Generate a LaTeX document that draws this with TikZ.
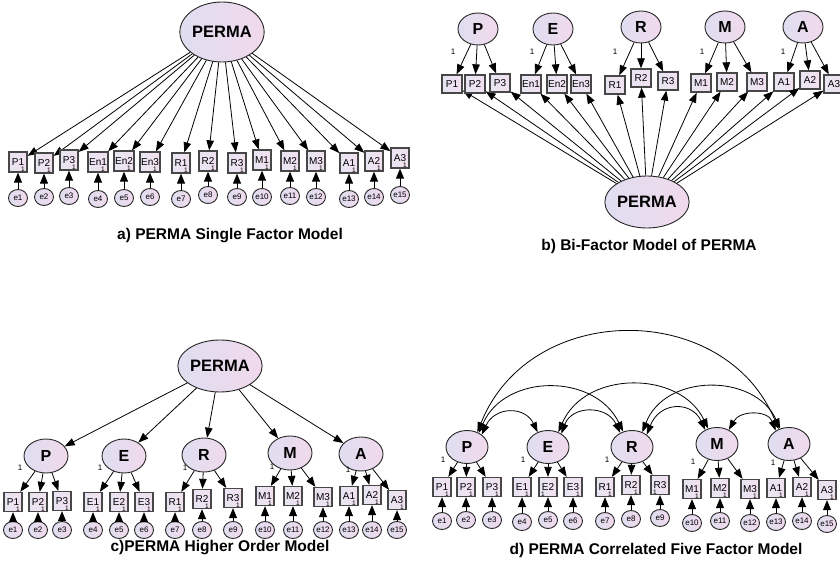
\documentclass[tikz,border=0pt]{standalone}
\usepackage{fontspec}
\setmainfont{Liberation Sans}
\usetikzlibrary{shapes.geometric,arrows.meta,calc}
\newcommand\fsz[1]{\fontsize{#1}{#1}\selectfont}
\definecolor{lav}{HTML}{DFDEF0}
\definecolor{pnk}{HTML}{F1D9EC}
\definecolor{boxl}{HTML}{E8E5F3}
\definecolor{boxr}{HTML}{F2E0EF}
\begin{document}
\begin{tikzpicture}[x=1pt,y=-1pt,
  fac/.style={ellipse,draw=black!85,line width=0.9pt,left color=lav,right color=pnk,inner sep=0pt,font=\fsz{16}\bfseries},
  obs/.style={rectangle,draw=black!72,line width=1.3pt,left color=boxl,right color=boxr,inner sep=0pt,inner xsep=1pt,minimum width=18pt,minimum height=19pt,font=\fsz{10}},
  err/.style={ellipse,draw=black!85,line width=0.9pt,left color=lav,right color=pnk,inner sep=0pt,minimum width=19pt,minimum height=17pt,font=\fsz{8}},
  ld/.style={-{Triangle[length=10pt,width=7.5pt]},line width=0.8pt},
  ea/.style={-{Triangle[length=10pt,width=8pt]},line width=1pt},
  cv/.style={{Triangle[length=10pt,width=7pt]}-{Triangle[length=10pt,width=7pt]},line width=0.8pt},
  one/.style={inner sep=0pt,font=\fsz{8}},
  tick/.style={inner sep=0pt,font=\fsz{6.5}},
  ttl/.style={inner sep=0pt,font=\fsz{15.5}\bfseries}]
\path[use as bounding box,clip] (0,0) rectangle (840,561);

% ---------- a) single factor ----------
\node[fac,minimum width=66pt,minimum height=60pt,font=\fsz{16.5}\bfseries] (aG) at (222,32) {PERMA};
\foreach \i/\t/\x/\y/\ey in {1/P1/18/162/198,2/P2/44/163/197,3/P3/69/160/196,
  4/En1/98/162/199,5/En2/124/161/198,6/En3/150/162/197,
  7/R1/181/163/199,8/R2/208/161/195,9/R3/237/163/197,
  10/M1/262/160/197,11/M2/290/161/196,12/M3/316/161/197,
  13/A1/349/163/199,14/A2/374/161/197,15/A3/400/158/195}{
  \node[obs,minimum height=20pt] (a\i) at (\x,\y) {\t};
  \node[err] (ae\i) at (\x,\ey) {e\i};
  \draw[ld] (aG) -- (a\i);
  \draw[ea] (ae\i) -- (a\i);
  \node[tick] at ($(a\i.south)+(5,-3)$) {1};
}
\node[ttl] (ta) at (230,236) {a) PERMA Single Factor Model};

% ---------- b) bi-factor ----------
\foreach \f/\x/\y in {P/478/29,E/553/29,R/641/27,M/725/27,A/803/27}
  \node[fac,minimum width=40pt,minimum height=32pt] (b\f) at (\x,\y) {\f};
\node[fac,minimum width=68pt,minimum height=52pt,font=\fsz{16.5}\bfseries] (bG) at (647,202) {PERMA};
\foreach \f/\t/\x/\y in {P/P1/452/84,P/P2/475/84,P/P3/500/83,
  E/En1/531/84,E/En2/557/84,E/En3/581/84,
  R/R1/615/85,R/R2/641/78,R/R3/668/81,
  M/M1/701/83,M/M2/727/82,M/M3/757/82,
  A/A1/784/82,A/A2/810/80,A/A3/834/84}{
  \node[obs,minimum width=20pt,minimum height=18pt] (b\t) at (\x,\y) {\t};
  \draw[ld] (b\f) -- (b\t);
  \draw[ld] (bG) -- (b\t);
}
\foreach \x/\y in {453/52,532/52,615/52,702/52,783/52}
  \node[one] at (\x,\y) {1};
\node[ttl] (tb) at (649,246) {b) Bi-Factor Model of PERMA};

% ---------- c) higher order ----------
\node[fac,minimum width=70pt,minimum height=52pt,font=\fsz{16.5}\bfseries] (cG) at (220,366) {PERMA};
\foreach \f/\x/\y/\ox/\oy in {P/46/456/20/468,E/124/456/100/468,R/204/455/185/468,M/290/453/272/467,A/361/454/348/470}{
  \node[fac,minimum width=44pt,minimum height=34pt] (c\f) at (\x,\y) {\f};
  \draw[ld] (cG) -- (c\f);
  \node[one] at (\ox,\oy) {1};
}
\foreach \f/\t/\i/\x/\y in {P/P1/1/13/502,P/P2/2/38/502,P/P3/3/62/501,
  E/E1/4/93/502,E/E2/5/119/502,E/E3/6/144/502,
  R/R1/7/175/502,R/R2/8/202/499,R/R3/9/233/498,
  M/M1/10/265/496,M/M2/11/293/496,M/M3/12/323/497,
  A/A1/13/349/496,A/A2/14/372/495,A/A3/15/397/500}{
  \node[obs] (c\t) at (\x,\y) {\t};
  \node[err] (ce\i) at (\x,530) {e\i};
  \draw[ld] (c\f) -- (c\t);
  \draw[ea] (ce\i) -- (c\t);
  \node[tick] at ($(c\t.south)+(5,-3)$) {1};
}
\node[ttl] (tc) at (220,548) {c)PERMA Higher Order Model};

% ---------- d) correlated five factors ----------
\foreach \f/\x/\y/\ox/\oy in {P/467/447/443/460,E/548/447/523/460,R/632/447/607/460,M/717/444/693/462,A/789/444/773/463}{
  \node[fac,minimum width=42pt,minimum height=33pt] (d\f) at (\x,\y) {\f};
  \node[one] at (\ox,\oy) {1};
}
\foreach \f/\t/\i/\x/\y/\ey/\s in {P/P1/1/442/487/521/5,P/P2/2/466/487/520/5,P/P3/3/492/487/520/5,
  E/E1/4/522/487/522/5,E/E2/5/548/487/520/-5,E/E3/6/573/487/521/5,
  R/R1/7/605/487/521/5,R/R2/8/631/485/519/5,R/R3/9/660/485/518/-5,
  M/M1/10/692/489/523/5,M/M2/11/720/488/521/5,M/M3/12/750/489/523/5,
  A/A1/13/776/488/522/5,A/A2/14/802/487/521/5,A/A3/15/827/490/524/5}{
  \node[obs] (d\t) at (\x,\y) {\t};
  \node[err] (de\i) at (\x,\ey) {e\i};
  \draw[ld] (d\f) -- (d\t);
  \draw[ea] (de\i) -- (d\t);
  \node[tick] at ($(d\t.south)+(\s,-3)$) {1};
}
\draw[cv] (dP.55) .. controls (530,300) and (725,300) .. (dA.125);
\draw[cv] (dP.50) .. controls (505,373) and (595,373) .. (dR.120);
\draw[cv] (dP.40) .. controls (495,406) and (525,406) .. (dE.125);
\draw[cv] (dE.55) .. controls (585,370) and (680,370) .. (dM.120);
\draw[cv] (dE.45) .. controls (572,405) and (607,405) .. (dR.130);
\draw[cv] (dR.55) .. controls (665,373) and (755,373) .. (dA.120);
\draw[cv] (dR.40) .. controls (660,401) and (692,401) .. (dM.130);
\draw[cv] (dM.50) .. controls (740,410) and (768,410) .. (dA.135);
\node[ttl] (td) at (656,550) {d) PERMA Correlated Five Factor Model};
\end{tikzpicture}
\end{document}
